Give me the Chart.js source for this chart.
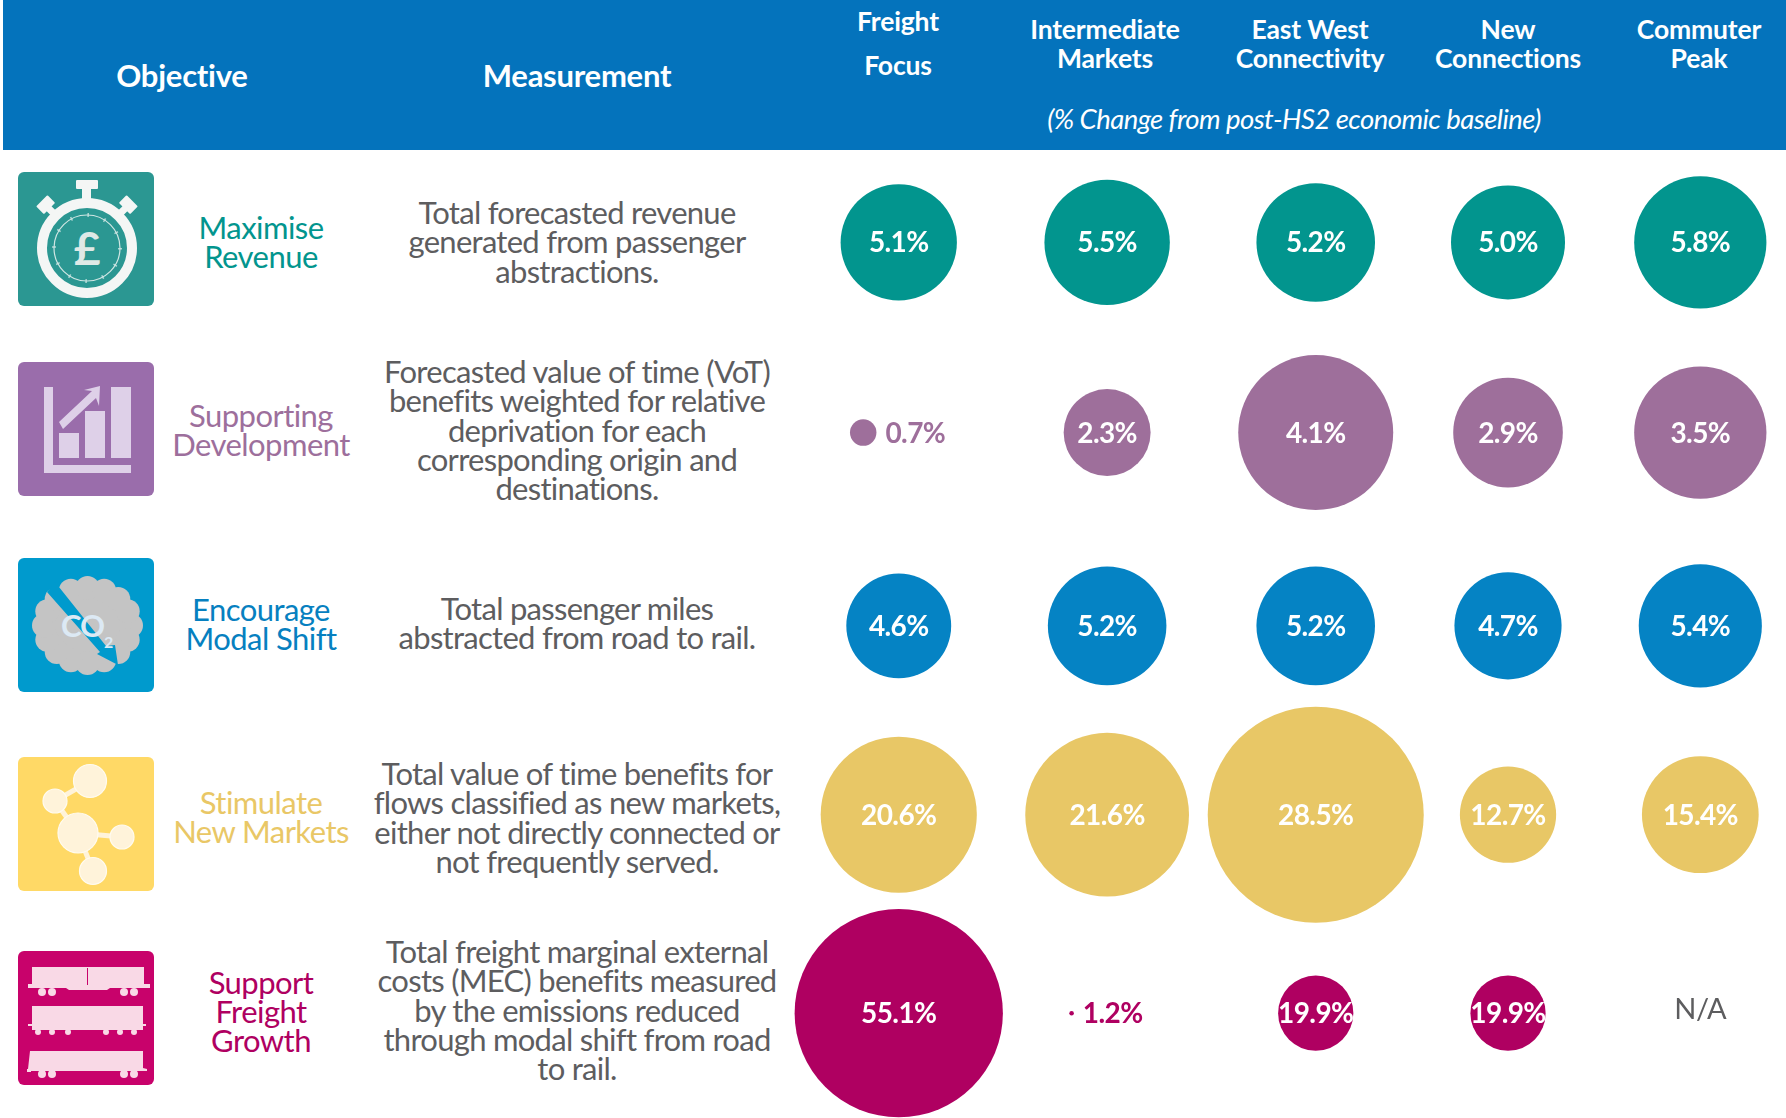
<!DOCTYPE html>
<html><head><meta charset="utf-8">
<script src="https://cdn.jsdelivr.net/npm/chart.js@4/dist/chart.umd.js"></script>
<style>
html,body{margin:0;padding:0;background:#fff;width:1786px;height:1118px;overflow:hidden;font-family:Lato,sans-serif}
#band{position:absolute;left:3px;top:0;width:1783px;height:150px;background:#0473bc}
canvas{position:absolute;left:0;top:0}
.t{position:absolute;transform:translate(-50%,-50%);text-align:center;white-space:nowrap}
.h{color:#fff;font-weight:700;font-size:26.5px;line-height:29px;letter-spacing:-.15px}
.hb{color:#fff;font-weight:700;font-size:31px;letter-spacing:-.25px}
.sub{color:#fff;font-style:italic;font-size:27.5px;letter-spacing:-.55px}
.obj{font-size:31px;line-height:29px;letter-spacing:-.55px}
.mea{color:#5d5d5f;font-size:31px;line-height:29.3px;letter-spacing:-.72px}
svg.ic{position:absolute;left:18px;width:136px;height:134px}
</style></head><body>
<div id="band"></div>
<div id="text"></div>
<canvas id="c" width="1786" height="1118"></canvas>
<script>
// ---- data ----
const scenarios = [["Freight","Focus"],["Intermediate","Markets"],["East West","Connectivity"],["New","Connections"],["Commuter","Peak"]];
const objectives = [["Maximise","Revenue"],["Supporting","Development"],["Encourage","Modal Shift"],["Stimulate","New Markets"],["Support","Freight","Growth"]];
const measurements = [
 ["Total forecasted revenue","generated from passenger","abstractions."],
 ["Forecasted value of time (VoT)","benefits weighted for relative","deprivation for each","corresponding origin and","destinations."],
 ["Total passenger miles","abstracted from road to rail."],
 ["Total value of time benefits for","flows classified as new markets,","either not directly connected or","not frequently served."],
 ["Total freight marginal external","costs (MEC) benefits measured","by the emissions reduced","through modal shift from road","to rail."]];
const maximiseRevenue = [5.1,5.5,5.2,5.0,5.8];
const supportingDevelopment = [0.7,2.3,4.1,2.9,3.5];
const encourageModalShift = [4.6,5.2,5.2,4.7,5.4];
const stimulateNewMarkets = [20.6,21.6,28.5,12.7,15.4];
const supportFreightGrowth = [55.1,1.2,19.9,19.9,null];

// ---- layout and style ----
const seriesValues=[maximiseRevenue,supportingDevelopment,encourageModalShift,stimulateNewMarkets,supportFreightGrowth];
const bubbleColors=['#02958e','#9e6f9b','#0583c4','#e8c766','#af0061'];
const labelColors=['#02958e','#9d6f9c','#0680c0','#e9c766','#af0061'];
const iconTop=[172,362,558,757,951];
const textY=[242,431,624,819,1011];
const colUnits=[1,1.997,2.995,3.915,4.835];
const rowUnits=[1,1.987,2.99,3.97,5.0];
const rowRadius=[11.4,18.9,11.4,3.79,1.89];   // radius per percentage point differs by row
const smallMarkShift=-0.17;                   // marks too small to hold a label sit left of the column
const smallLimit=20;
const radiusOf=(row,v)=>v*rowRadius[row];

const box=document.getElementById('text');
function put(cls,x,y,lines,color){
  const d=document.createElement('div');d.className='t '+cls;d.style.left=x+'px';d.style.top=y+'px';
  if(color)d.style.color=color;d.innerHTML=lines.join('<br>');box.appendChild(d);
}
put('hb',182,75,['Objective']);put('hb',577,75,['Measurement']);
put('h',898,21,[scenarios[0][0]]);put('h',898,65,[scenarios[0][1]]);
[1105,1310,1508,1699].forEach((x,i)=>put('h',x,44,scenarios[i+1]));
put('sub',1294,118,['(% Change from post-HS2 economic baseline)']);
objectives.forEach((o,i)=>put('obj',261,textY[i]+[0,-1,0,-2,0][i],o,labelColors[i]));
measurements.forEach((m,i)=>put('mea',577,textY[i]-1+(i===0?1:0),m));

let scallops='';
for(let a=0;a<16;a++){const t=a/16*2*Math.PI;scallops+=`<circle cx="${69.5+43.5*Math.cos(t)}" cy="${67.5+37.5*Math.sin(t)}" r="12"/>`;}
const icons=[
`<rect width="136" height="134" rx="6" fill="#2b9792"/>
<g fill="#f4f6f5"><rect x="58" y="8" width="22" height="9" rx="1"/><rect x="64" y="16" width="9" height="14"/>
<rect x="-8" y="-6" width="16" height="11" rx="1" transform="translate(28 33) rotate(-45)"/><rect x="-8" y="-6" width="16" height="11" rx="1" transform="translate(110 33) rotate(45)"/>
<rect x="26" y="34" width="12" height="7" transform="rotate(45 32 37)"/><rect x="100" y="34" width="12" height="7" transform="rotate(-45 106 37)"/></g>
<circle cx="69" cy="76" r="45" fill="#2b9792" stroke="#f4f6f5" stroke-width="10"/>
<circle cx="69" cy="76" r="33" fill="none" stroke="#cfe6e3" stroke-width="1.2"/>
<circle cx="69" cy="76" r="33" fill="none" stroke="#cfe6e3" stroke-width="4" stroke-dasharray="1.5 15.8" opacity=".8"/>
<text x="69" y="93" text-anchor="middle" font-family="Lato" font-weight="700" font-size="46" fill="#dfe9e6">£</text>`,
`<rect width="136" height="134" rx="6" fill="#9a6dab"/>
<g fill="#ded0e8"><path d="M26 25h9v78h78v8H26z"/><rect x="41" y="71" width="20" height="25"/><rect x="67" y="49" width="20" height="47"/><rect x="93" y="25" width="20" height="71"/>
<path d="M41 60l33-31-8-1 16-4-1 20-3-8-33 31z"/></g>`,
`<rect width="136" height="134" rx="6" fill="#009acd"/>
<g fill="#c4c4c4"><ellipse cx="69.5" cy="67.5" rx="48" ry="42"/>${scallops}</g>
<path d="M37 24L88 88L97 87L100 107L79 96L82 94L29 34z" fill="#009acd"/>
<text x="43" y="79" font-family="Lato" font-weight="700" font-size="31" fill="#dce9f4" letter-spacing="-1">CO</text><text x="86" y="90" font-family="Lato" font-weight="700" font-size="16" fill="#dce9f4">2</text>`,
`<rect width="136" height="134" rx="6" fill="#ffd966"/>
<g stroke="#fff3da" stroke-width="5" fill="none"><path d="M72 24L37 44L60 76L104 80M60 76L75 114"/></g>
<g fill="#fff3da" stroke="#fffbf0" stroke-width="1.2"><circle cx="72" cy="24" r="16.5"/><circle cx="37" cy="44" r="12"/><circle cx="60" cy="76" r="20"/><circle cx="104" cy="80" r="12"/><circle cx="75" cy="114" r="13.5"/></g>`,
`<rect width="136" height="134" rx="6" fill="#c8026b"/>
<g fill="#f9d9e6"><path d="M14 16h112v19l4 0 0 2h-118v-2h2z"/><path d="M10 33h4v4h-4zM126 33h6v4h-6z"/><circle cx="24" cy="41" r="4"/><circle cx="34" cy="41" r="4"/><circle cx="106" cy="41" r="4"/><circle cx="116" cy="41" r="4"/><path d="M45 35h50l-6 4h-38z"/>
<path d="M14 55h111v18h3v2h-3v4H14v-4h-4v-2h4z"/><circle cx="20" cy="81" r="3"/><circle cx="34" cy="81" r="3"/><circle cx="50" cy="81" r="3"/><circle cx="88" cy="81" r="3"/><circle cx="102" cy="81" r="3"/><circle cx="116" cy="81" r="3"/>
<path d="M12 100h113v17l4 1v2h-117v-2h-2z"/><path d="M9 118h4v3h-4z"/><circle cx="24" cy="123" r="4"/><circle cx="34" cy="123" r="4"/><circle cx="106" cy="123" r="4"/><circle cx="116" cy="123" r="4"/></g>
<rect x="69" y="17" width="1" height="17" fill="#c8026b"/>`];
icons.forEach((s,i)=>box.insertAdjacentHTML('beforeend',`<svg class="ic" style="top:${iconTop[i]}px" viewBox="0 0 136 134">${s}</svg>`));

const datasets=seriesValues.map((vals,row)=>({
  label:objectives[row].join(' '),
  backgroundColor:bubbleColors[row],borderWidth:0,clip:false,
  data:vals.map((v,col)=>{
    if(v===null)return {x:colUnits[col],y:rowUnits[row],r:0,value:null};
    const r=radiusOf(row,v);
    return {x:colUnits[col]+(r<smallLimit?smallMarkShift:0),y:rowUnits[row],r,value:v};
  })
}));

const valueLabels={id:'valueLabels',afterDatasetsDraw(chart){
  const ctx=chart.ctx;ctx.save();ctx.textBaseline='middle';
  chart.data.datasets.forEach((ds,row)=>{
    const meta=chart.getDatasetMeta(row);
    ds.data.forEach((d,col)=>{
      const p=meta.data[col];
      const y=chart.scales.y.getPixelForValue(d.y)+1;
      if(d.value===null){
        ctx.font='400 29px Lato';ctx.letterSpacing='-0.4px';ctx.fillStyle='#5d5d5f';ctx.textAlign='center';
        ctx.fillText('N/A',chart.scales.x.getPixelForValue(d.x),y-5);return;
      }
      const txt=d.value.toFixed(1)+'%';
      ctx.font='700 28px Lato';ctx.letterSpacing='-0.6px';
      if(d.r<smallLimit){ctx.textAlign='left';ctx.fillStyle=bubbleColors[row];ctx.fillText(txt,p.x+d.r+9,y);}
      else{ctx.textAlign='center';ctx.fillStyle='#fff';ctx.fillText(txt,p.x,y);}
    });
  });
  ctx.restore();
}};

new Chart(document.getElementById('c'),{
  type:'bubble',
  data:{datasets},
  plugins:[valueLabels],
  options:{
    responsive:false,animation:false,events:[],
    layout:{padding:0,autoPadding:false},
    plugins:{legend:{display:false},tooltip:{enabled:false}},
    scales:{
      x:{type:'linear',display:false,min:-3.30,max:5.245},
      y:{type:'linear',display:false,reverse:true,min:-0.258,max:5.544}
    }
  }
});
</script>
</body></html>
